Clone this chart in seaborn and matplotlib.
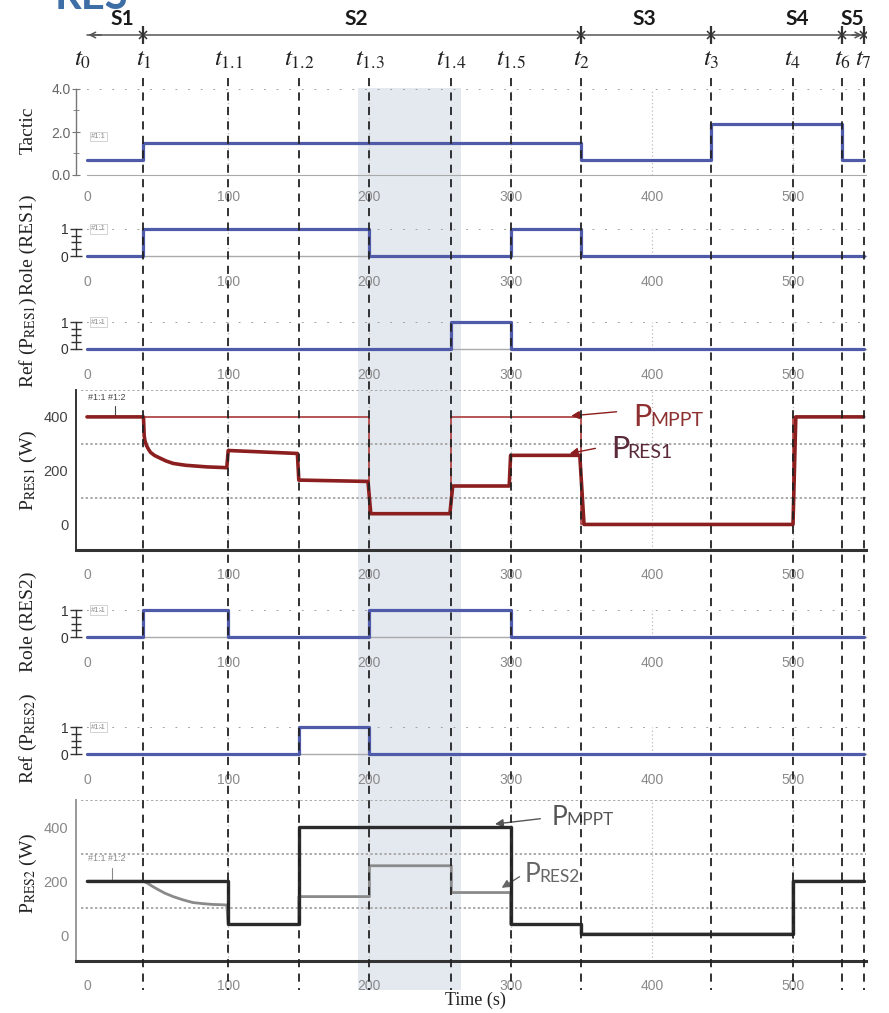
import matplotlib
matplotlib.use("Agg")
import matplotlib.pyplot as plt
import seaborn as sns

sns.set_style("white")
plt.rcParams["font.family"] = ["Liberation Sans", "DejaVu Sans"]
plt.rcParams["mathtext.fontset"] = "stix"

# ---------------------------------------------------------------- data
# event instants (s) and their subscripts
t_marks = [0, 40, 100, 150, 200, 258, 300, 350, 442, 500, 535, 550]
t_names = ["0", "1", "1.1", "1.2", "1.3", "1.4", "1.5", "2", "3", "4", "6", "7"]

# operating stages
stage_names = ["S1", "S2", "S3", "S4", "S5"]
stage_label_x = [25, 191, 395, 503, 542]
stage_marks = [40, 350, 442, 535, 550]

# highlighted interval (s)
shade_window = [192, 265]

# step signals: switching instants and held levels
tactic_edges = [0, 40, 350, 442, 535, 550]
tactic_levels = [0.7, 1.5, 0.7, 2.35, 0.7]
role1_edges = [0, 40, 200, 300, 350, 550]
role1_levels = [0, 1, 0, 1, 0]
ref1_edges = [0, 258, 300, 550]
ref1_levels = [0, 1, 0]
role2_edges = [0, 40, 100, 200, 300, 550]
role2_levels = [0, 1, 0, 1, 0]
ref2_edges = [0, 150, 200, 550]
ref2_levels = [0, 1, 0]

# RES1 power (W)
pres1_t = [0, 40, 40.5, 41, 42, 43.5, 45, 48, 52, 56, 61, 66, 70, 75, 80, 85, 90, 95, 99,
           100, 149, 150, 199, 201, 257, 259, 299, 300, 349, 352, 500, 502, 550]
pres1_v = [400, 400, 330, 312, 295, 280, 268, 256, 246, 236, 227, 223, 220, 218, 216, 214,
           213, 212, 211, 275, 264, 165, 160, 40, 40, 143, 143, 257, 257, 0, 0, 400, 400]
mppt1_t = [0, 200, 200, 258, 258, 350, 350, 500, 500, 550]
mppt1_v = [400, 400, 40, 40, 400, 400, 0, 0, 400, 400]

# RES2 power (W)
mppt2_t = [0, 100, 100, 150, 150, 300, 300, 350, 350, 500, 500, 550]
mppt2_v = [200, 200, 40, 40, 400, 400, 40, 40, 5, 5, 200, 200]
pres2_t = [0, 40, 43, 46, 50, 55, 61, 68, 75, 82, 89, 95, 99, 100, 150, 150, 200, 200, 258,
           258, 300, 300, 350, 350, 500, 500, 550]
pres2_v = [200, 200, 192, 182, 170, 156, 143, 131, 121, 117, 114, 113, 112, 40, 40, 143,
           143, 257, 257, 158, 158, 40, 40, 5, 5, 200, 200]

x_ticks = [0, 100, 200, 300, 400, 500]

# ---------------------------------------------------------------- layout
W, H = 889, 1013
fig = plt.figure(figsize=(W / 100, H / 100), dpi=100)

S = 1.412            # pixels per second
X0 = 87              # pixel column of t = 0
XMAX = 552
AX_LEFT = 76
AX_RIGHT = X0 + XMAX * S
XLIM = (-(X0 - AX_LEFT) / S, XMAX)

BLUE = "#4F5AA8"
DARKRED = "#8B1E1E"
RED_THIN = "#B04848"


def px_axes(top, bottom, zorder=1):
    ax = fig.add_axes([AX_LEFT / W, 1 - bottom / H, (AX_RIGHT - AX_LEFT) / W, (bottom - top) / H])
    ax.set_zorder(zorder)
    ax.set_facecolor("none")
    ax.set_xlim(*XLIM)
    return ax


def full_overlay(zorder):
    ax = fig.add_axes([AX_LEFT / W, 0, (AX_RIGHT - AX_LEFT) / W, 1])
    ax.set_zorder(zorder)
    ax.set_facecolor("none")
    ax.set_xlim(*XLIM)
    ax.set_ylim(H, 0)
    ax.axis("off")
    return ax


def step_xy(edges, levels):
    return list(edges), list(levels) + [levels[-1]]


def x_axis_style(ax, pad, labelcolor="#8a8a8a"):
    ax.set_xticks(x_ticks)
    ax.set_xticks(list(range(0, 551, 50)), minor=True)
    ax.set_xticklabels([str(v) for v in x_ticks])
    ax.tick_params(axis="x", which="major", direction="inout", length=6, width=1,
                   color="#777", labelcolor=labelcolor, labelsize=10, pad=pad)
    ax.tick_params(axis="x", which="minor", direction="inout", length=4, width=1, color="#777")
    for v in x_ticks[1:]:
        ax.axvline(v, color="#bbbbbb", lw=0.9, ls=(0, (1, 2)), zorder=0)


def step_panel(top, bottom, edges, levels, tag_y):
    ax = px_axes(top, bottom)
    x, y = step_xy(edges, levels)
    sns.lineplot(x=x, y=y, ax=ax, drawstyle="steps-post", estimator=None, sort=False,
                 color=BLUE, lw=2.3, clip_on=False, legend=False, zorder=3)
    ax.set_ylim(0, 1)
    ax.plot([0, XMAX], [1, 1], color="#999", lw=1.3, ls=(0, (1, 6)), zorder=1)
    for s in ["top", "right"]:
        ax.spines[s].set_visible(False)
    ax.spines["bottom"].set_bounds(0, XMAX)
    ax.spines["bottom"].set_color("#aaaaaa")
    ax.spines["bottom"].set_linewidth(1)
    ax.set_yticks([0, 1])
    ax.set_yticklabels(["0", "1"])
    ax.set_yticks([0.25, 0.5, 0.75], minor=True)
    ax.tick_params(axis="y", which="major", direction="inout", length=9, width=1,
                   color="#333", labelcolor="#333", labelsize=10, pad=1)
    ax.tick_params(axis="y", which="minor", direction="inout", length=7, width=1, color="#333")
    ax.yaxis.set_ticks_position("left")
    ax.spines["left"].set_color("#333")
    ax.spines["left"].set_linewidth(1)
    x_axis_style(ax, pad=11)
    ax.text(3, tag_y, "#1:1", fontsize=5.5, color="#888", va="center",
            bbox=dict(fc="none", ec="#cccccc", lw=0.6, pad=0.8))
    ax.set_xlabel("")
    ax.set_ylabel("")
    return ax


def power_panel(top, bottom, spine_color, label_color):
    ax = px_axes(top, bottom)
    ax.set_ylim(-95, 500)
    for s in ["top", "right"]:
        ax.spines[s].set_visible(False)
    ax.spines["bottom"].set_color("#333")
    ax.spines["bottom"].set_linewidth(2.2)
    ax.spines["left"].set_color(spine_color)
    ax.spines["left"].set_linewidth(1.4)
    for v in [100, 300, 500]:
        ax.plot([-4, XMAX], [v, v], color="#aaaaaa", lw=1.4, ls=(0, (1.2, 1.2)), zorder=0)
    ax.set_yticks([0, 200, 400])
    ax.set_yticks([100, 300], minor=True)
    ax.tick_params(axis="y", which="major", direction="inout", length=7, width=1.2,
                   color=spine_color, labelcolor=label_color, labelsize=10.5, pad=2)
    ax.tick_params(axis="y", which="minor", direction="inout", length=5, width=1.2,
                   color=spine_color)
    x_axis_style(ax, pad=10)
    ax.tick_params(axis="x", which="both", color="#333", width=1.5)
    return ax


def cap_text(ax, x, y, big, small, color, fs_big, fs_small):
    t1 = ax.text(x, y, big, fontsize=fs_big, color=color, family="Lato", va="baseline")
    r = fig.canvas.get_renderer()
    w = t1.get_window_extent(renderer=r).width
    ax.annotate(small, xy=(x, y), xytext=(w * 72 / fig.dpi - 1, 0), textcoords="offset points",
                fontsize=fs_small, color=color, family="Lato", va="baseline")


# ---------------------------------------------------------------- background layers
bg = full_overlay(0)
bg.fill_between(shade_window, 88, 990, color="#E4E9F0", lw=0)

fg = full_overlay(5)
for t in t_marks[1:]:
    fg.plot([t, t], [78, 990], color="#222", lw=1.3, ls=(0, (4.5, 3.5)))

for t, n in zip(t_marks, t_names):
    xt = t - 3 if t == 0 else t
    fg.text(xt, 66, r"$t_{%s}$" % n, fontsize=18, ha="center", va="baseline", color="#222")

fg.plot([0, 550], [35, 35], color="#555", lw=1.1)
fg.annotate("", xy=(-1, 35), xytext=(12, 35),
            arrowprops=dict(arrowstyle="->", color="#555", lw=1.1))
fg.annotate("", xy=(551, 35), xytext=(540, 35),
            arrowprops=dict(arrowstyle="->", color="#555", lw=1.1))
for t in stage_marks:
    fg.plot([t], [35], marker="x", color="#333", ms=6, mew=1.1)
    fg.plot([t], [35], marker="|", color="#333", ms=13, mew=1.6)
for name, xs in zip(stage_names, stage_label_x):
    fg.text(xs, 19, name, fontsize=15, family="Lato", weight="bold", ha="center",
            va="center", color="#1a1a1a")

fig.text(55 / W, 1 - 9 / H, "RES", fontsize=30, weight="bold", family="Lato",
         color="#3D6EA5", va="baseline", ha="left")

# ---------------------------------------------------------------- panels
# Tactic
ax = px_axes(89, 175)
x, y = step_xy(tactic_edges, tactic_levels)
sns.lineplot(x=x, y=y, ax=ax, drawstyle="steps-post", estimator=None, sort=False,
             color=BLUE, lw=2.3, legend=False, zorder=3)
ax.set_ylim(0, 4)
ax.plot([0, XMAX], [4, 4], color="#999", lw=1.3, ls=(0, (1, 6)), zorder=1)
for s in ["top", "right"]:
    ax.spines[s].set_visible(False)
ax.spines["bottom"].set_bounds(0, XMAX)
ax.spines["bottom"].set_color("#aaaaaa")
ax.spines["left"].set_color("#777")
ax.spines["left"].set_linewidth(1)
ax.set_yticks([0, 2, 4])
ax.set_yticklabels(["0.0", "2.0", "4.0"])
ax.set_yticks([1, 3], minor=True)
ax.tick_params(axis="y", which="major", direction="inout", length=6, color="#777",
               labelcolor="#666", labelsize=10, pad=1)
ax.tick_params(axis="y", which="minor", direction="inout", length=4, color="#777")
ax.yaxis.set_ticks_position("left")
x_axis_style(ax, pad=8)
ax.text(3, 1.8, "#1:1", fontsize=5.5, color="#888", va="center",
        bbox=dict(fc="none", ec="#cccccc", lw=0.6, pad=0.8))
ax.set_xlabel("")
ax.set_ylabel("")

step_panel(229, 256, role1_edges, role1_levels, 1.0)
step_panel(322, 349, ref1_edges, ref1_levels, 1.0)

# RES1 power
ax4 = power_panel(390, 550, "#333", "#444")
sns.lineplot(x=mppt1_t, y=mppt1_v, ax=ax4, estimator=None, sort=False, color=RED_THIN,
             lw=1.3, legend=False, zorder=3)
sns.lineplot(x=pres1_t, y=pres1_v, ax=ax4, estimator=None, sort=False, color=DARKRED,
             lw=2.6, legend=False, zorder=4)
ax4.set_xlabel("")
ax4.set_ylabel("")
ax4.plot([20, 20], [400, 440], color="#444", lw=0.8)
ax4.text(1, 472, "#1:1 #1:2", fontsize=6.5, color="#444", va="center")
ax4.annotate("", xy=(341, 403), xytext=(377, 420),
             arrowprops=dict(arrowstyle="-|>", color=DARKRED, lw=1.0, mutation_scale=12))
ax4.annotate("", xy=(340, 262), xytext=(362, 285),
             arrowprops=dict(arrowstyle="-|>", color=DARKRED, lw=1.0, mutation_scale=12))
cap_text(ax4, 387, 367, "P", "MPPT", "#8E3030", 22, 14)
cap_text(ax4, 371, 246, "P", "RES1", "#5A2A3A", 22, 14)

step_panel(610, 637, role2_edges, role2_levels, 1.0)
step_panel(727, 754, ref2_edges, ref2_levels, 1.0)

# RES2 power
ax7 = power_panel(800, 961, "#999", "#888")
sns.lineplot(x=pres2_t, y=pres2_v, ax=ax7, estimator=None, sort=False, color="#8a8a8a",
             lw=2.0, legend=False, zorder=3)
sns.lineplot(x=mppt2_t, y=mppt2_v, ax=ax7, estimator=None, sort=False, color="#2b2b2b",
             lw=2.4, legend=False, zorder=4)
ax7.set_xlabel("")
ax7.set_ylabel("")
ax7.plot([18, 18], [204, 250], color="#888", lw=0.8)
ax7.text(1, 285, "#1:1 #1:2", fontsize=6.5, color="#888", va="center")
ax7.annotate("", xy=(287, 410), xytext=(323, 432),
             arrowprops=dict(arrowstyle="-|>", color="#555", lw=1.0, mutation_scale=12))
ax7.annotate("", xy=(292, 170), xytext=(308, 222),
             arrowprops=dict(arrowstyle="-|>", color="#666", lw=1.0, mutation_scale=12))
cap_text(ax7, 329, 407, "P", "MPPT", "#555", 19, 12.5)
cap_text(ax7, 310, 196, "P", "RES2", "#666", 19, 12.5)

# ---------------------------------------------------------------- axis titles
serif = ["Liberation Serif", "DejaVu Serif"]
ylabels = [
    (130, "Tactic"),
    (245, "Role (RES1)"),
    (342, r"Ref (P$_{\mathrm{RES1}}$)"),
    (470, r"P$_{\mathrm{RES1}}$ (W)"),
    (622, "Role (RES2)"),
    (738, r"Ref (P$_{\mathrm{RES2}}$)"),
    (873, r"P$_{\mathrm{RES2}}$ (W)"),
]
for yc, txt in ylabels:
    fig.text(28 / W, 1 - yc / H, txt, rotation=90, ha="center", va="center",
             fontsize=14, family=serif, color="#222")

fig.text(475 / W, 1 - 1000 / H, "Time (s)", ha="center", va="center", fontsize=13,
         family=serif, color="#222")

fig.savefig("out.png", dpi=100)
